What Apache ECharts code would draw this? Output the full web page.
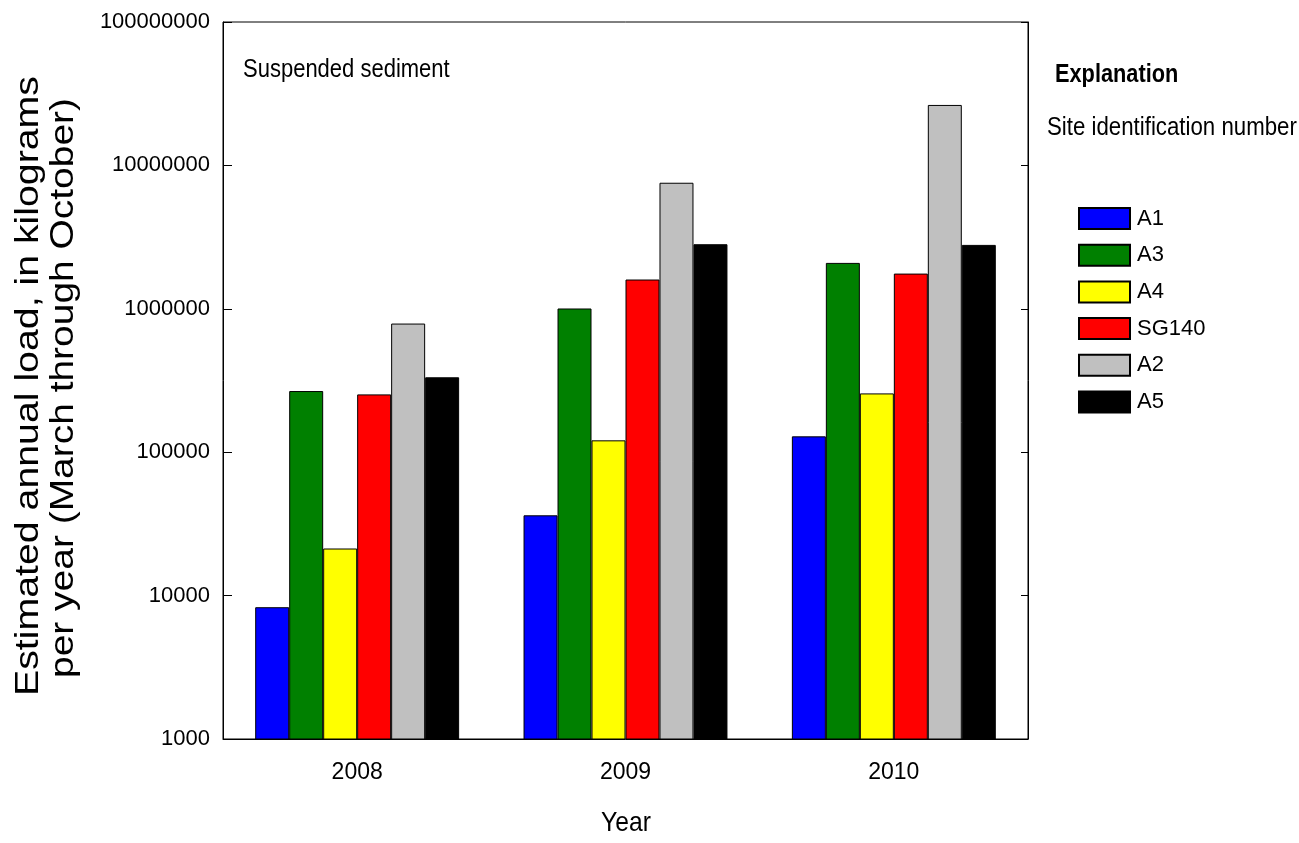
<!DOCTYPE html>
<html>
<head>
<meta charset="utf-8">
<title>Estimated annual suspended sediment load</title>
<script src="https://cdn.jsdelivr.net/npm/echarts@6/dist/echarts.min.js"></script>
<style>
  html, body { margin: 0; padding: 0; background: #fff; }
  #main { width: 1299px; height: 843px; }
</style>
</head>
<body>
<div id="main"></div>
<script>
// years on the x axis
const years = ['2008', '2009', '2010'];

// site ids, in the order they are drawn in each group
const sites = ['A1', 'A3', 'A4', 'SG140', 'A2', 'A5'];
const siteColors = ['#0000ff', '#008000', '#ffff00', '#ff0000', '#c0c0c0', '#000000'];

// estimated annual load, kg/yr (read off the log scale)
const loadA1 = [8300, 36300, 129000];
const loadA3 = [267000, 1005000, 2090000];
const loadA4 = [21300, 121000, 257000];
const loadSG140 = [253000, 1600000, 1760000];
const loadA2 = [789000, 7570000, 26400000];
const loadA5 = [333000, 2820000, 2790000];

const loads = [loadA1, loadA3, loadA4, loadSG140, loadA2, loadA5];

const font = "'Liberation Sans', Arial, sans-serif";
// the original type is a condensed sans, so squeeze free text a bit
const squeeze = 0.88;

function label(text, x, y, size, opts) {
  opts = opts || {};
  return {
    type: 'text',
    x: x, y: y,
    rotation: opts.rotation || 0,
    scaleX: opts.scaleX || squeeze,
    silent: true,
    style: {
      text: text,
      fill: '#000',
      font: (opts.bold ? 'bold ' : '') + size + 'px ' + font,
      textAlign: opts.align || 'left',
      textVerticalAlign: 'middle'
    }
  };
}

const chart = echarts.init(document.getElementById('main'));

chart.setOption({
  animation: false,
  backgroundColor: '#ffffff',
  textStyle: { fontFamily: font, color: '#000' },
  graphic: [
    label('Suspended sediment', 243, 70, 25),
    label('Explanation', 1055, 75, 25, { bold: true, scaleX: 0.87 }),
    label('Site identification number', 1047, 128, 25, { scaleX: 0.89 }),
    label('Year', 626, 823, 28, { align: 'center' }),
    label('Estimated annual load, in kilograms', 29, 386, 33,
      { align: 'center', rotation: Math.PI / 2, scaleX: 1.19 }),
    label('per year (March through October)', 64, 388, 33,
      { align: 'center', rotation: Math.PI / 2, scaleX: 1.18 })
  ],
  legend: {
    orient: 'vertical',
    left: 1078,
    top: 207,
    padding: 0,
    itemWidth: 51,
    itemHeight: 21,
    itemGap: 13.7,
    icon: 'rect',
    textStyle: { fontFamily: font, fontSize: 22, color: '#000', padding: [0, 0, 0, 2] },
    data: sites
  },
  grid: {
    left: 223, right: 271, top: 22, bottom: 104,
    outerBoundsMode: 'none',
    containLabel: false,
    show: true,
    borderColor: '#000',
    borderWidth: 1,
    backgroundColor: 'transparent'
  },
  xAxis: {
    type: 'category',
    data: years,
    axisLine: { lineStyle: { color: '#000', width: 1 } },
    axisTick: { show: false },
    axisLabel: { fontFamily: font, fontSize: 23, color: '#000', margin: 22 }
  },
  yAxis: [
    {
      type: 'log',
      logBase: 10,
      min: 1000,
      max: 100000000,
      axisLine: { show: true, lineStyle: { color: '#000' } },
      axisTick: { show: true, inside: true, length: 9, lineStyle: { color: '#000' } },
      splitLine: { show: false },
      minorTick: { show: false },
      axisLabel: {
        fontFamily: font, fontSize: 22, color: '#000', margin: 13,
        formatter: v => String(Math.round(v))
      }
    },
    {
      type: 'log',
      logBase: 10,
      min: 1000,
      max: 100000000,
      position: 'right',
      axisLine: { show: true, lineStyle: { color: '#000' } },
      axisTick: { show: true, inside: true, length: 7, lineStyle: { color: '#000' } },
      splitLine: { show: false },
      axisLabel: { show: false }
    }
  ],
  series: sites.map((s, i) => ({
    name: s,
    type: 'bar',
    yAxisIndex: 0,
    data: loads[i],
    barGap: '0%',
    barCategoryGap: '24%',
    itemStyle: { color: siteColors[i], borderColor: '#000', borderWidth: 1 }
  }))
});
</script>
</body>
</html>
